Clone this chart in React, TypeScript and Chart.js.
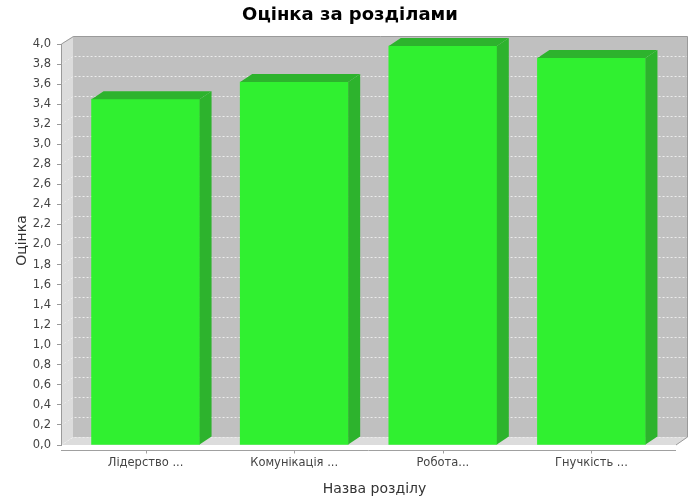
import { useEffect, useRef } from "react";
import { Chart, registerables } from "chart.js";

Chart.register(...registerables);

const TITLE = "Оцінка за розділами";
const X_TITLE = "Назва розділу";
const Y_TITLE = "Оцінка";
const CATEGORIES = ["Лідерство ...", "Комунікація ...", "Робота...", "Гнучкість ..."];
const SCORES = [3.45, 3.62, 3.98, 3.86];
const Y_MIN = 0;
const Y_MAX = 4;
const Y_STEP = 0.2;

const FONT = "'DejaVu Sans', sans-serif";
const DX = 12;
const DY = 8;

// category axis margins (lower/upper 5%, category gap 20%)
const LOWER = 0.05;
const UPPER = 0.05;
const CAT_GAP = 0.2;
const n = CATEGORIES.length;
const catW = (1 - LOWER - UPPER - CAT_GAP) / n;
const step = catW + CAT_GAP / (n - 1);
const firstCenter = LOWER + catW / 2;
const X_MIN = -firstCenter / step;
const X_MAX = X_MIN + 1 / step;

const threeD = {
  id: "threeD",
  beforeDraw(chart: any) {
    const { ctx, chartArea: a, scales } = chart;
    const ys = scales.y;
    const xs = scales.x;
    const L = a.left, R = a.right, T = a.top, B = a.bottom;
    ctx.save();
    // back wall
    ctx.fillStyle = "#c0c0c0";
    ctx.fillRect(L + DX, T - DY, R - L, B - T);
    // left wall and floor
    ctx.fillStyle = "#dcdcdc";
    ctx.beginPath();
    ctx.moveTo(L, T);
    ctx.lineTo(L + DX, T - DY);
    ctx.lineTo(L + DX, B - DY);
    ctx.lineTo(L, B);
    ctx.closePath();
    ctx.fill();
    ctx.beginPath();
    ctx.moveTo(L, B);
    ctx.lineTo(L + DX, B - DY);
    ctx.lineTo(R + DX, B - DY);
    ctx.lineTo(R, B);
    ctx.closePath();
    ctx.fill();
    // gridlines
    ctx.strokeStyle = "#ececec";
    ctx.lineWidth = 1;
    ctx.setLineDash([2, 2]);
    for (const t of ys.ticks) {
      const py = Math.round(ys.getPixelForValue(t.value)) + 0.5;
      ctx.beginPath();
      ctx.moveTo(L, py);
      ctx.lineTo(L + DX, py - DY);
      ctx.lineTo(R + DX, py - DY);
      ctx.stroke();
    }
    ctx.setLineDash([]);
    // outline
    ctx.strokeStyle = "#9a9a9a";
    ctx.beginPath();
    ctx.moveTo(L + 0.5, B);
    ctx.lineTo(L + 0.5, T);
    ctx.lineTo(L + DX + 0.5, T - DY + 0.5);
    ctx.lineTo(R + DX - 0.5, T - DY + 0.5);
    ctx.lineTo(R + DX - 0.5, B - DY);
    ctx.lineTo(R, B);
    ctx.stroke();
    // category axis line and tick marks
    ctx.strokeStyle = "#a0a0a0";
    const ay = B + 5.5;
    ctx.beginPath();
    ctx.moveTo(L, ay);
    ctx.lineTo(R, ay);
    ctx.stroke();
    for (const t of xs.ticks) {
      const px = Math.round(xs.getPixelForValue(t.value)) + 0.5;
      ctx.beginPath();
      ctx.moveTo(px, ay);
      ctx.lineTo(px, ay + 3);
      ctx.stroke();
    }
    ctx.restore();
  },
  afterDatasetsDraw(chart: any) {
    const { ctx } = chart;
    const meta = chart.getDatasetMeta(0);
    ctx.save();
    ctx.fillStyle = "#2db32d";
    for (const el of meta.data) {
      const { x, y, base, width } = el.getProps(["x", "y", "base", "width"], true);
      const l = x - width / 2;
      const r = x + width / 2;
      // side face
      ctx.beginPath();
      ctx.moveTo(r, y);
      ctx.lineTo(r + DX, y - DY);
      ctx.lineTo(r + DX, base - DY);
      ctx.lineTo(r, base);
      ctx.closePath();
      ctx.fill();
      // top face
      ctx.beginPath();
      ctx.moveTo(l, y);
      ctx.lineTo(l + DX, y - DY);
      ctx.lineTo(r + DX, y - DY);
      ctx.lineTo(r, y);
      ctx.closePath();
      ctx.fill();
    }
    ctx.restore();
  },
  afterDraw(chart: any) {
    const { ctx, chartArea: a, width } = chart;
    ctx.save();
    ctx.textAlign = "center";
    ctx.textBaseline = "alphabetic";
    // chart title
    ctx.fillStyle = "#000";
    ctx.font = `bold 18px ${FONT}`;
    ctx.fillText(TITLE, width / 2, 20);
    // x axis title (centred over the whole 3D plot)
    ctx.fillStyle = "#333";
    ctx.font = `14px ${FONT}`;
    ctx.fillText(X_TITLE, (a.left + a.right + DX) / 2, 493);
    // y axis title
    ctx.translate(26, (a.top - DY + a.bottom) / 2);
    ctx.rotate(-Math.PI / 2);
    ctx.fillText(Y_TITLE, 0, 0);
    ctx.restore();
  },
};

export default function App() {
  const ref = useRef<HTMLCanvasElement>(null);
  useEffect(() => {
    const chart = new Chart(ref.current!, {
      type: "bar",
      data: {
        datasets: [
          {
            label: Y_TITLE,
            data: SCORES.map((v, i) => ({ x: i, y: v })),
            backgroundColor: "#30f030",
            borderWidth: 0,
            barThickness: 108,
          },
        ],
      },
      options: {
        responsive: false,
        animation: false,
        layout: { padding: { top: 44, right: 24, left: 0, bottom: 0 } },
        plugins: {
          legend: { display: false },
          tooltip: { enabled: false },
          title: { display: false },
        },
        scales: {
          x: {
            type: "linear",
            offset: false,
            min: X_MIN,
            max: X_MAX,
            afterBuildTicks: (s: any) => {
              s.ticks = CATEGORIES.map((_, i) => ({ value: i }));
            },
            afterFit: (s: any) => {
              s.height = 55;
            },
            grid: { display: false, drawTicks: false, offset: false },
            border: { display: false },
            ticks: {
              autoSkip: false,
              maxRotation: 0,
              padding: 11,
              color: "#444",
              font: { family: FONT, size: 11.5 },
              callback: (v: any) => CATEGORIES[v] ?? "",
            },
          },
          y: {
            min: Y_MIN,
            max: Y_MAX,
            afterFit: (s: any) => {
              s.width = 61;
            },
            grid: { drawOnChartArea: false, drawTicks: true, tickLength: 4, color: "#9a9a9a" },
            border: { display: true, color: "#9a9a9a" },
            ticks: {
              stepSize: Y_STEP,
              maxTicksLimit: 30,
              autoSkip: false,
              padding: 6,
              color: "#444",
              font: { family: FONT, size: 11.5 },
              callback: (v: any) => Number(v).toFixed(1).replace(".", ","),
            },
          },
        },
      },
      plugins: [threeD],
    } as any);
    return () => chart.destroy();
  }, []);
  return (
    <div style={{ position: "absolute", left: 0, top: 0, width: 700, height: 500, background: "#fff" }}>
      <canvas ref={ref} width={700} height={500} style={{ display: "block" }} />
    </div>
  );
}
